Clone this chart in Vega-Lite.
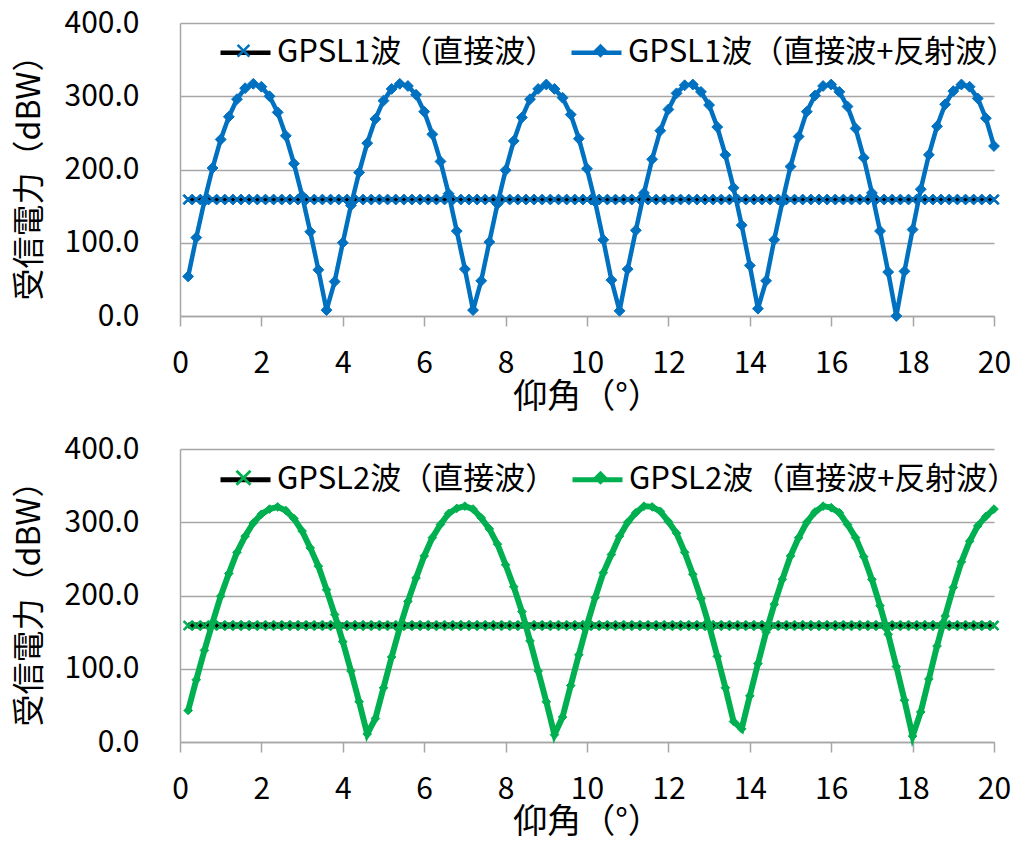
{
"$schema":"https://vega.github.io/schema/vega-lite/v6.json",
"padding":{"left":13,"top":8,"right":0,"bottom":0},
"autosize":{"type":"pad"},
"spacing":20,
"config":{
 "font":"Noto Sans CJK JP",
 "view":{"stroke":null},
 "axis":{"labelFont":"Noto Sans CJK JP","titleFont":"Noto Sans CJK JP","labelColor":"#000000","titleColor":"#000000","titleFontWeight":"normal","domainColor":"#A6A6A6","domainWidth":1.5,"gridColor":"#A6A6A6","gridWidth":1.5,"tickColor":"#A6A6A6","tickWidth":1.5},
 "legend":{"labelFont":"Noto Sans CJK JP","labelFontSize":31,"labelColor":"#000000","padding":0,"labelLimit":0}
},
"resolve":{"scale":{"stroke":"independent","shape":"independent"},"legend":{"stroke":"independent","shape":"independent"}},
"datasets":{
"L1":[
{"angle":0.2,"power":159,"series":"GPSL1波（直接波）"},{"angle":0.4,"power":159,"series":"GPSL1波（直接波）"},{"angle":0.6,"power":159,"series":"GPSL1波（直接波）"},{"angle":0.8,"power":159,"series":"GPSL1波（直接波）"},{"angle":1.0,"power":159,"series":"GPSL1波（直接波）"},{"angle":1.2,"power":159,"series":"GPSL1波（直接波）"},{"angle":1.4,"power":159,"series":"GPSL1波（直接波）"},{"angle":1.6,"power":159,"series":"GPSL1波（直接波）"},{"angle":1.8,"power":159,"series":"GPSL1波（直接波）"},{"angle":2.0,"power":159,"series":"GPSL1波（直接波）"},
{"angle":2.2,"power":159,"series":"GPSL1波（直接波）"},{"angle":2.4,"power":159,"series":"GPSL1波（直接波）"},{"angle":2.6,"power":159,"series":"GPSL1波（直接波）"},{"angle":2.8,"power":159,"series":"GPSL1波（直接波）"},{"angle":3.0,"power":159,"series":"GPSL1波（直接波）"},{"angle":3.2,"power":159,"series":"GPSL1波（直接波）"},{"angle":3.4,"power":159,"series":"GPSL1波（直接波）"},{"angle":3.6,"power":159,"series":"GPSL1波（直接波）"},{"angle":3.8,"power":159,"series":"GPSL1波（直接波）"},{"angle":4.0,"power":159,"series":"GPSL1波（直接波）"},
{"angle":4.2,"power":159,"series":"GPSL1波（直接波）"},{"angle":4.4,"power":159,"series":"GPSL1波（直接波）"},{"angle":4.6,"power":159,"series":"GPSL1波（直接波）"},{"angle":4.8,"power":159,"series":"GPSL1波（直接波）"},{"angle":5.0,"power":159,"series":"GPSL1波（直接波）"},{"angle":5.2,"power":159,"series":"GPSL1波（直接波）"},{"angle":5.4,"power":159,"series":"GPSL1波（直接波）"},{"angle":5.6,"power":159,"series":"GPSL1波（直接波）"},{"angle":5.8,"power":159,"series":"GPSL1波（直接波）"},{"angle":6.0,"power":159,"series":"GPSL1波（直接波）"},
{"angle":6.2,"power":159,"series":"GPSL1波（直接波）"},{"angle":6.4,"power":159,"series":"GPSL1波（直接波）"},{"angle":6.6,"power":159,"series":"GPSL1波（直接波）"},{"angle":6.8,"power":159,"series":"GPSL1波（直接波）"},{"angle":7.0,"power":159,"series":"GPSL1波（直接波）"},{"angle":7.2,"power":159,"series":"GPSL1波（直接波）"},{"angle":7.4,"power":159,"series":"GPSL1波（直接波）"},{"angle":7.6,"power":159,"series":"GPSL1波（直接波）"},{"angle":7.8,"power":159,"series":"GPSL1波（直接波）"},{"angle":8.0,"power":159,"series":"GPSL1波（直接波）"},
{"angle":8.2,"power":159,"series":"GPSL1波（直接波）"},{"angle":8.4,"power":159,"series":"GPSL1波（直接波）"},{"angle":8.6,"power":159,"series":"GPSL1波（直接波）"},{"angle":8.8,"power":159,"series":"GPSL1波（直接波）"},{"angle":9.0,"power":159,"series":"GPSL1波（直接波）"},{"angle":9.2,"power":159,"series":"GPSL1波（直接波）"},{"angle":9.4,"power":159,"series":"GPSL1波（直接波）"},{"angle":9.6,"power":159,"series":"GPSL1波（直接波）"},{"angle":9.8,"power":159,"series":"GPSL1波（直接波）"},{"angle":10.0,"power":159,"series":"GPSL1波（直接波）"},
{"angle":10.2,"power":159,"series":"GPSL1波（直接波）"},{"angle":10.4,"power":159,"series":"GPSL1波（直接波）"},{"angle":10.6,"power":159,"series":"GPSL1波（直接波）"},{"angle":10.8,"power":159,"series":"GPSL1波（直接波）"},{"angle":11.0,"power":159,"series":"GPSL1波（直接波）"},{"angle":11.2,"power":159,"series":"GPSL1波（直接波）"},{"angle":11.4,"power":159,"series":"GPSL1波（直接波）"},{"angle":11.6,"power":159,"series":"GPSL1波（直接波）"},{"angle":11.8,"power":159,"series":"GPSL1波（直接波）"},{"angle":12.0,"power":159,"series":"GPSL1波（直接波）"},
{"angle":12.2,"power":159,"series":"GPSL1波（直接波）"},{"angle":12.4,"power":159,"series":"GPSL1波（直接波）"},{"angle":12.6,"power":159,"series":"GPSL1波（直接波）"},{"angle":12.8,"power":159,"series":"GPSL1波（直接波）"},{"angle":13.0,"power":159,"series":"GPSL1波（直接波）"},{"angle":13.2,"power":159,"series":"GPSL1波（直接波）"},{"angle":13.4,"power":159,"series":"GPSL1波（直接波）"},{"angle":13.6,"power":159,"series":"GPSL1波（直接波）"},{"angle":13.8,"power":159,"series":"GPSL1波（直接波）"},{"angle":14.0,"power":159,"series":"GPSL1波（直接波）"},
{"angle":14.2,"power":159,"series":"GPSL1波（直接波）"},{"angle":14.4,"power":159,"series":"GPSL1波（直接波）"},{"angle":14.6,"power":159,"series":"GPSL1波（直接波）"},{"angle":14.8,"power":159,"series":"GPSL1波（直接波）"},{"angle":15.0,"power":159,"series":"GPSL1波（直接波）"},{"angle":15.2,"power":159,"series":"GPSL1波（直接波）"},{"angle":15.4,"power":159,"series":"GPSL1波（直接波）"},{"angle":15.6,"power":159,"series":"GPSL1波（直接波）"},{"angle":15.8,"power":159,"series":"GPSL1波（直接波）"},{"angle":16.0,"power":159,"series":"GPSL1波（直接波）"},
{"angle":16.2,"power":159,"series":"GPSL1波（直接波）"},{"angle":16.4,"power":159,"series":"GPSL1波（直接波）"},{"angle":16.6,"power":159,"series":"GPSL1波（直接波）"},{"angle":16.8,"power":159,"series":"GPSL1波（直接波）"},{"angle":17.0,"power":159,"series":"GPSL1波（直接波）"},{"angle":17.2,"power":159,"series":"GPSL1波（直接波）"},{"angle":17.4,"power":159,"series":"GPSL1波（直接波）"},{"angle":17.6,"power":159,"series":"GPSL1波（直接波）"},{"angle":17.8,"power":159,"series":"GPSL1波（直接波）"},{"angle":18.0,"power":159,"series":"GPSL1波（直接波）"},
{"angle":18.2,"power":159,"series":"GPSL1波（直接波）"},{"angle":18.4,"power":159,"series":"GPSL1波（直接波）"},{"angle":18.6,"power":159,"series":"GPSL1波（直接波）"},{"angle":18.8,"power":159,"series":"GPSL1波（直接波）"},{"angle":19.0,"power":159,"series":"GPSL1波（直接波）"},{"angle":19.2,"power":159,"series":"GPSL1波（直接波）"},{"angle":19.4,"power":159,"series":"GPSL1波（直接波）"},{"angle":19.6,"power":159,"series":"GPSL1波（直接波）"},{"angle":19.8,"power":159,"series":"GPSL1波（直接波）"},{"angle":20.0,"power":159,"series":"GPSL1波（直接波）"},
{"angle":0.2,"power":54,"series":"GPSL1波（直接波+反射波）"},{"angle":0.4,"power":107,"series":"GPSL1波（直接波+反射波）"},{"angle":0.6,"power":157,"series":"GPSL1波（直接波+反射波）"},{"angle":0.8,"power":202,"series":"GPSL1波（直接波+反射波）"},{"angle":1.0,"power":241,"series":"GPSL1波（直接波+反射波）"},{"angle":1.2,"power":272,"series":"GPSL1波（直接波+反射波）"},{"angle":1.4,"power":296,"series":"GPSL1波（直接波+反射波）"},{"angle":1.6,"power":311,"series":"GPSL1波（直接波+反射波）"},{"angle":1.8,"power":317,"series":"GPSL1波（直接波+反射波）"},{"angle":2.0,"power":313,"series":"GPSL1波（直接波+反射波）"},
{"angle":2.2,"power":300,"series":"GPSL1波（直接波+反射波）"},{"angle":2.4,"power":278,"series":"GPSL1波（直接波+反射波）"},{"angle":2.6,"power":246,"series":"GPSL1波（直接波+反射波）"},{"angle":2.8,"power":208,"series":"GPSL1波（直接波+反射波）"},{"angle":3.0,"power":164,"series":"GPSL1波（直接波+反射波）"},{"angle":3.2,"power":115,"series":"GPSL1波（直接波+反射波）"},{"angle":3.4,"power":63,"series":"GPSL1波（直接波+反射波）"},{"angle":3.6,"power":8,"series":"GPSL1波（直接波+反射波）"},{"angle":3.8,"power":47,"series":"GPSL1波（直接波+反射波）"},{"angle":4.0,"power":100,"series":"GPSL1波（直接波+反射波）"},
{"angle":4.2,"power":151,"series":"GPSL1波（直接波+反射波）"},{"angle":4.4,"power":196,"series":"GPSL1波（直接波+反射波）"},{"angle":4.6,"power":236,"series":"GPSL1波（直接波+反射波）"},{"angle":4.8,"power":269,"series":"GPSL1波（直接波+反射波）"},{"angle":5.0,"power":294,"series":"GPSL1波（直接波+反射波）"},{"angle":5.2,"power":310,"series":"GPSL1波（直接波+反射波）"},{"angle":5.4,"power":317,"series":"GPSL1波（直接波+反射波）"},{"angle":5.6,"power":314,"series":"GPSL1波（直接波+反射波）"},{"angle":5.8,"power":302,"series":"GPSL1波（直接波+反射波）"},{"angle":6.0,"power":279,"series":"GPSL1波（直接波+反射波）"},
{"angle":6.2,"power":248,"series":"GPSL1波（直接波+反射波）"},{"angle":6.4,"power":211,"series":"GPSL1波（直接波+反射波）"},{"angle":6.6,"power":167,"series":"GPSL1波（直接波+反射波）"},{"angle":6.8,"power":116,"series":"GPSL1波（直接波+反射波）"},{"angle":7.0,"power":64,"series":"GPSL1波（直接波+反射波）"},{"angle":7.2,"power":8,"series":"GPSL1波（直接波+反射波）"},{"angle":7.4,"power":48,"series":"GPSL1波（直接波+反射波）"},{"angle":7.6,"power":101,"series":"GPSL1波（直接波+反射波）"},{"angle":7.8,"power":153,"series":"GPSL1波（直接波+反射波）"},{"angle":8.0,"power":199,"series":"GPSL1波（直接波+反射波）"},
{"angle":8.2,"power":239,"series":"GPSL1波（直接波+反射波）"},{"angle":8.4,"power":271,"series":"GPSL1波（直接波+反射波）"},{"angle":8.6,"power":296,"series":"GPSL1波（直接波+反射波）"},{"angle":8.8,"power":310,"series":"GPSL1波（直接波+反射波）"},{"angle":9.0,"power":316,"series":"GPSL1波（直接波+反射波）"},{"angle":9.2,"power":310,"series":"GPSL1波（直接波+反射波）"},{"angle":9.4,"power":298,"series":"GPSL1波（直接波+反射波）"},{"angle":9.6,"power":275,"series":"GPSL1波（直接波+反射波）"},{"angle":9.8,"power":242,"series":"GPSL1波（直接波+反射波）"},{"angle":10.0,"power":201,"series":"GPSL1波（直接波+反射波）"},
{"angle":10.2,"power":156,"series":"GPSL1波（直接波+反射波）"},{"angle":10.4,"power":104,"series":"GPSL1波（直接波+反射波）"},{"angle":10.6,"power":49,"series":"GPSL1波（直接波+反射波）"},{"angle":10.8,"power":7,"series":"GPSL1波（直接波+反射波）"},{"angle":11.0,"power":64,"series":"GPSL1波（直接波+反射波）"},{"angle":11.2,"power":117,"series":"GPSL1波（直接波+反射波）"},{"angle":11.4,"power":168,"series":"GPSL1波（直接波+反射波）"},{"angle":11.6,"power":214,"series":"GPSL1波（直接波+反射波）"},{"angle":11.8,"power":253,"series":"GPSL1波（直接波+反射波）"},{"angle":12.0,"power":282,"series":"GPSL1波（直接波+反射波）"},
{"angle":12.2,"power":304,"series":"GPSL1波（直接波+反射波）"},{"angle":12.4,"power":315,"series":"GPSL1波（直接波+反射波）"},{"angle":12.6,"power":316,"series":"GPSL1波（直接波+反射波）"},{"angle":12.8,"power":306,"series":"GPSL1波（直接波+反射波）"},{"angle":13.0,"power":288,"series":"GPSL1波（直接波+反射波）"},{"angle":13.2,"power":258,"series":"GPSL1波（直接波+反射波）"},{"angle":13.4,"power":220,"series":"GPSL1波（直接波+反射波）"},{"angle":13.6,"power":175,"series":"GPSL1波（直接波+反射波）"},{"angle":13.8,"power":124,"series":"GPSL1波（直接波+反射波）"},{"angle":14.0,"power":69,"series":"GPSL1波（直接波+反射波）"},
{"angle":14.2,"power":10,"series":"GPSL1波（直接波+反射波）"},{"angle":14.4,"power":48,"series":"GPSL1波（直接波+反射波）"},{"angle":14.6,"power":104,"series":"GPSL1波（直接波+反射波）"},{"angle":14.8,"power":156,"series":"GPSL1波（直接波+反射波）"},{"angle":15.0,"power":204,"series":"GPSL1波（直接波+反射波）"},{"angle":15.2,"power":245,"series":"GPSL1波（直接波+反射波）"},{"angle":15.4,"power":279,"series":"GPSL1波（直接波+反射波）"},{"angle":15.6,"power":301,"series":"GPSL1波（直接波+反射波）"},{"angle":15.8,"power":314,"series":"GPSL1波（直接波+反射波）"},{"angle":16.0,"power":316,"series":"GPSL1波（直接波+反射波）"},
{"angle":16.2,"power":306,"series":"GPSL1波（直接波+反射波）"},{"angle":16.4,"power":286,"series":"GPSL1波（直接波+反射波）"},{"angle":16.6,"power":256,"series":"GPSL1波（直接波+反射波）"},{"angle":16.8,"power":216,"series":"GPSL1波（直接波+反射波）"},{"angle":17.0,"power":168,"series":"GPSL1波（直接波+反射波）"},{"angle":17.2,"power":116,"series":"GPSL1波（直接波+反射波）"},{"angle":17.4,"power":60,"series":"GPSL1波（直接波+反射波）"},{"angle":17.6,"power":0,"series":"GPSL1波（直接波+反射波）"},{"angle":17.8,"power":61,"series":"GPSL1波（直接波+反射波）"},{"angle":18.0,"power":118,"series":"GPSL1波（直接波+反射波）"},
{"angle":18.2,"power":173,"series":"GPSL1波（直接波+反射波）"},{"angle":18.4,"power":220,"series":"GPSL1波（直接波+反射波）"},{"angle":18.6,"power":259,"series":"GPSL1波（直接波+反射波）"},{"angle":18.8,"power":289,"series":"GPSL1波（直接波+反射波）"},{"angle":19.0,"power":307,"series":"GPSL1波（直接波+反射波）"},{"angle":19.2,"power":316,"series":"GPSL1波（直接波+反射波）"},{"angle":19.4,"power":313,"series":"GPSL1波（直接波+反射波）"},{"angle":19.6,"power":297,"series":"GPSL1波（直接波+反射波）"},{"angle":19.8,"power":270,"series":"GPSL1波（直接波+反射波）"},{"angle":20.0,"power":232,"series":"GPSL1波（直接波+反射波）"}
],
"L2":[
{"angle":0.2,"power":159,"series":"GPSL2波（直接波）"},{"angle":0.4,"power":159,"series":"GPSL2波（直接波）"},{"angle":0.6,"power":159,"series":"GPSL2波（直接波）"},{"angle":0.8,"power":159,"series":"GPSL2波（直接波）"},{"angle":1.0,"power":159,"series":"GPSL2波（直接波）"},{"angle":1.2,"power":159,"series":"GPSL2波（直接波）"},{"angle":1.4,"power":159,"series":"GPSL2波（直接波）"},{"angle":1.6,"power":159,"series":"GPSL2波（直接波）"},{"angle":1.8,"power":159,"series":"GPSL2波（直接波）"},{"angle":2.0,"power":159,"series":"GPSL2波（直接波）"},
{"angle":2.2,"power":159,"series":"GPSL2波（直接波）"},{"angle":2.4,"power":159,"series":"GPSL2波（直接波）"},{"angle":2.6,"power":159,"series":"GPSL2波（直接波）"},{"angle":2.8,"power":159,"series":"GPSL2波（直接波）"},{"angle":3.0,"power":159,"series":"GPSL2波（直接波）"},{"angle":3.2,"power":159,"series":"GPSL2波（直接波）"},{"angle":3.4,"power":159,"series":"GPSL2波（直接波）"},{"angle":3.6,"power":159,"series":"GPSL2波（直接波）"},{"angle":3.8,"power":159,"series":"GPSL2波（直接波）"},{"angle":4.0,"power":159,"series":"GPSL2波（直接波）"},
{"angle":4.2,"power":159,"series":"GPSL2波（直接波）"},{"angle":4.4,"power":159,"series":"GPSL2波（直接波）"},{"angle":4.6,"power":159,"series":"GPSL2波（直接波）"},{"angle":4.8,"power":159,"series":"GPSL2波（直接波）"},{"angle":5.0,"power":159,"series":"GPSL2波（直接波）"},{"angle":5.2,"power":159,"series":"GPSL2波（直接波）"},{"angle":5.4,"power":159,"series":"GPSL2波（直接波）"},{"angle":5.6,"power":159,"series":"GPSL2波（直接波）"},{"angle":5.8,"power":159,"series":"GPSL2波（直接波）"},{"angle":6.0,"power":159,"series":"GPSL2波（直接波）"},
{"angle":6.2,"power":159,"series":"GPSL2波（直接波）"},{"angle":6.4,"power":159,"series":"GPSL2波（直接波）"},{"angle":6.6,"power":159,"series":"GPSL2波（直接波）"},{"angle":6.8,"power":159,"series":"GPSL2波（直接波）"},{"angle":7.0,"power":159,"series":"GPSL2波（直接波）"},{"angle":7.2,"power":159,"series":"GPSL2波（直接波）"},{"angle":7.4,"power":159,"series":"GPSL2波（直接波）"},{"angle":7.6,"power":159,"series":"GPSL2波（直接波）"},{"angle":7.8,"power":159,"series":"GPSL2波（直接波）"},{"angle":8.0,"power":159,"series":"GPSL2波（直接波）"},
{"angle":8.2,"power":159,"series":"GPSL2波（直接波）"},{"angle":8.4,"power":159,"series":"GPSL2波（直接波）"},{"angle":8.6,"power":159,"series":"GPSL2波（直接波）"},{"angle":8.8,"power":159,"series":"GPSL2波（直接波）"},{"angle":9.0,"power":159,"series":"GPSL2波（直接波）"},{"angle":9.2,"power":159,"series":"GPSL2波（直接波）"},{"angle":9.4,"power":159,"series":"GPSL2波（直接波）"},{"angle":9.6,"power":159,"series":"GPSL2波（直接波）"},{"angle":9.8,"power":159,"series":"GPSL2波（直接波）"},{"angle":10.0,"power":159,"series":"GPSL2波（直接波）"},
{"angle":10.2,"power":159,"series":"GPSL2波（直接波）"},{"angle":10.4,"power":159,"series":"GPSL2波（直接波）"},{"angle":10.6,"power":159,"series":"GPSL2波（直接波）"},{"angle":10.8,"power":159,"series":"GPSL2波（直接波）"},{"angle":11.0,"power":159,"series":"GPSL2波（直接波）"},{"angle":11.2,"power":159,"series":"GPSL2波（直接波）"},{"angle":11.4,"power":159,"series":"GPSL2波（直接波）"},{"angle":11.6,"power":159,"series":"GPSL2波（直接波）"},{"angle":11.8,"power":159,"series":"GPSL2波（直接波）"},{"angle":12.0,"power":159,"series":"GPSL2波（直接波）"},
{"angle":12.2,"power":159,"series":"GPSL2波（直接波）"},{"angle":12.4,"power":159,"series":"GPSL2波（直接波）"},{"angle":12.6,"power":159,"series":"GPSL2波（直接波）"},{"angle":12.8,"power":159,"series":"GPSL2波（直接波）"},{"angle":13.0,"power":159,"series":"GPSL2波（直接波）"},{"angle":13.2,"power":159,"series":"GPSL2波（直接波）"},{"angle":13.4,"power":159,"series":"GPSL2波（直接波）"},{"angle":13.6,"power":159,"series":"GPSL2波（直接波）"},{"angle":13.8,"power":159,"series":"GPSL2波（直接波）"},{"angle":14.0,"power":159,"series":"GPSL2波（直接波）"},
{"angle":14.2,"power":159,"series":"GPSL2波（直接波）"},{"angle":14.4,"power":159,"series":"GPSL2波（直接波）"},{"angle":14.6,"power":159,"series":"GPSL2波（直接波）"},{"angle":14.8,"power":159,"series":"GPSL2波（直接波）"},{"angle":15.0,"power":159,"series":"GPSL2波（直接波）"},{"angle":15.2,"power":159,"series":"GPSL2波（直接波）"},{"angle":15.4,"power":159,"series":"GPSL2波（直接波）"},{"angle":15.6,"power":159,"series":"GPSL2波（直接波）"},{"angle":15.8,"power":159,"series":"GPSL2波（直接波）"},{"angle":16.0,"power":159,"series":"GPSL2波（直接波）"},
{"angle":16.2,"power":159,"series":"GPSL2波（直接波）"},{"angle":16.4,"power":159,"series":"GPSL2波（直接波）"},{"angle":16.6,"power":159,"series":"GPSL2波（直接波）"},{"angle":16.8,"power":159,"series":"GPSL2波（直接波）"},{"angle":17.0,"power":159,"series":"GPSL2波（直接波）"},{"angle":17.2,"power":159,"series":"GPSL2波（直接波）"},{"angle":17.4,"power":159,"series":"GPSL2波（直接波）"},{"angle":17.6,"power":159,"series":"GPSL2波（直接波）"},{"angle":17.8,"power":159,"series":"GPSL2波（直接波）"},{"angle":18.0,"power":159,"series":"GPSL2波（直接波）"},
{"angle":18.2,"power":159,"series":"GPSL2波（直接波）"},{"angle":18.4,"power":159,"series":"GPSL2波（直接波）"},{"angle":18.6,"power":159,"series":"GPSL2波（直接波）"},{"angle":18.8,"power":159,"series":"GPSL2波（直接波）"},{"angle":19.0,"power":159,"series":"GPSL2波（直接波）"},{"angle":19.2,"power":159,"series":"GPSL2波（直接波）"},{"angle":19.4,"power":159,"series":"GPSL2波（直接波）"},{"angle":19.6,"power":159,"series":"GPSL2波（直接波）"},{"angle":19.8,"power":159,"series":"GPSL2波（直接波）"},{"angle":20.0,"power":159,"series":"GPSL2波（直接波）"},
{"angle":0.2,"power":43,"series":"GPSL2波（直接波+反射波）"},{"angle":0.4,"power":85,"series":"GPSL2波（直接波+反射波）"},{"angle":0.6,"power":125,"series":"GPSL2波（直接波+反射波）"},{"angle":0.8,"power":163,"series":"GPSL2波（直接波+反射波）"},{"angle":1.0,"power":199,"series":"GPSL2波（直接波+反射波）"},{"angle":1.2,"power":230,"series":"GPSL2波（直接波+反射波）"},{"angle":1.4,"power":259,"series":"GPSL2波（直接波+反射波）"},{"angle":1.6,"power":281,"series":"GPSL2波（直接波+反射波）"},{"angle":1.8,"power":299,"series":"GPSL2波（直接波+反射波）"},{"angle":2.0,"power":311,"series":"GPSL2波（直接波+反射波）"},
{"angle":2.2,"power":318,"series":"GPSL2波（直接波+反射波）"},{"angle":2.4,"power":321,"series":"GPSL2波（直接波+反射波）"},{"angle":2.6,"power":316,"series":"GPSL2波（直接波+反射波）"},{"angle":2.8,"power":305,"series":"GPSL2波（直接波+反射波）"},{"angle":3.0,"power":288,"series":"GPSL2波（直接波+反射波）"},{"angle":3.2,"power":265,"series":"GPSL2波（直接波+反射波）"},{"angle":3.4,"power":240,"series":"GPSL2波（直接波+反射波）"},{"angle":3.6,"power":208,"series":"GPSL2波（直接波+反射波）"},{"angle":3.8,"power":174,"series":"GPSL2波（直接波+反射波）"},{"angle":4.0,"power":137,"series":"GPSL2波（直接波+反射波）"},
{"angle":4.2,"power":97,"series":"GPSL2波（直接波+反射波）"},{"angle":4.4,"power":55,"series":"GPSL2波（直接波+反射波）"},{"angle":4.6,"power":11,"series":"GPSL2波（直接波+反射波）"},{"angle":4.8,"power":32,"series":"GPSL2波（直接波+反射波）"},{"angle":5.0,"power":74,"series":"GPSL2波（直接波+反射波）"},{"angle":5.2,"power":116,"series":"GPSL2波（直接波+反射波）"},{"angle":5.4,"power":156,"series":"GPSL2波（直接波+反射波）"},{"angle":5.6,"power":192,"series":"GPSL2波（直接波+反射波）"},{"angle":5.8,"power":224,"series":"GPSL2波（直接波+反射波）"},{"angle":6.0,"power":254,"series":"GPSL2波（直接波+反射波）"},
{"angle":6.2,"power":279,"series":"GPSL2波（直接波+反射波）"},{"angle":6.4,"power":297,"series":"GPSL2波（直接波+反射波）"},{"angle":6.6,"power":312,"series":"GPSL2波（直接波+反射波）"},{"angle":6.8,"power":319,"series":"GPSL2波（直接波+反射波）"},{"angle":7.0,"power":322,"series":"GPSL2波（直接波+反射波）"},{"angle":7.2,"power":318,"series":"GPSL2波（直接波+反射波）"},{"angle":7.4,"power":306,"series":"GPSL2波（直接波+反射波）"},{"angle":7.6,"power":291,"series":"GPSL2波（直接波+反射波）"},{"angle":7.8,"power":270,"series":"GPSL2波（直接波+反射波）"},{"angle":8.0,"power":242,"series":"GPSL2波（直接波+反射波）"},
{"angle":8.2,"power":212,"series":"GPSL2波（直接波+反射波）"},{"angle":8.4,"power":178,"series":"GPSL2波（直接波+反射波）"},{"angle":8.6,"power":138,"series":"GPSL2波（直接波+反射波）"},{"angle":8.8,"power":97,"series":"GPSL2波（直接波+反射波）"},{"angle":9.0,"power":55,"series":"GPSL2波（直接波+反射波）"},{"angle":9.2,"power":10,"series":"GPSL2波（直接波+反射波）"},{"angle":9.4,"power":34,"series":"GPSL2波（直接波+反射波）"},{"angle":9.6,"power":77,"series":"GPSL2波（直接波+反射波）"},{"angle":9.8,"power":119,"series":"GPSL2波（直接波+反射波）"},{"angle":10.0,"power":160,"series":"GPSL2波（直接波+反射波）"},
{"angle":10.2,"power":197,"series":"GPSL2波（直接波+反射波）"},{"angle":10.4,"power":231,"series":"GPSL2波（直接波+反射波）"},{"angle":10.6,"power":256,"series":"GPSL2波（直接波+反射波）"},{"angle":10.8,"power":281,"series":"GPSL2波（直接波+反射波）"},{"angle":11.0,"power":300,"series":"GPSL2波（直接波+反射波）"},{"angle":11.2,"power":313,"series":"GPSL2波（直接波+反射波）"},{"angle":11.4,"power":322,"series":"GPSL2波（直接波+反射波）"},{"angle":11.6,"power":321,"series":"GPSL2波（直接波+反射波）"},{"angle":11.8,"power":315,"series":"GPSL2波（直接波+反射波）"},{"angle":12.0,"power":301,"series":"GPSL2波（直接波+反射波）"},
{"angle":12.2,"power":285,"series":"GPSL2波（直接波+反射波）"},{"angle":12.4,"power":259,"series":"GPSL2波（直接波+反射波）"},{"angle":12.6,"power":229,"series":"GPSL2波（直接波+反射波）"},{"angle":12.8,"power":196,"series":"GPSL2波（直接波+反射波）"},{"angle":13.0,"power":159,"series":"GPSL2波（直接波+反射波）"},{"angle":13.2,"power":117,"series":"GPSL2波（直接波+反射波）"},{"angle":13.4,"power":74,"series":"GPSL2波（直接波+反射波）"},{"angle":13.6,"power":28,"series":"GPSL2波（直接波+反射波）"},{"angle":13.8,"power":18,"series":"GPSL2波（直接波+反射波）"},{"angle":14.0,"power":63,"series":"GPSL2波（直接波+反射波）"},
{"angle":14.2,"power":107,"series":"GPSL2波（直接波+反射波）"},{"angle":14.4,"power":150,"series":"GPSL2波（直接波+反射波）"},{"angle":14.6,"power":188,"series":"GPSL2波（直接波+反射波）"},{"angle":14.8,"power":222,"series":"GPSL2波（直接波+反射波）"},{"angle":15.0,"power":254,"series":"GPSL2波（直接波+反射波）"},{"angle":15.2,"power":279,"series":"GPSL2波（直接波+反射波）"},{"angle":15.4,"power":300,"series":"GPSL2波（直接波+反射波）"},{"angle":15.6,"power":314,"series":"GPSL2波（直接波+反射波）"},{"angle":15.8,"power":322,"series":"GPSL2波（直接波+反射波）"},{"angle":16.0,"power":320,"series":"GPSL2波（直接波+反射波）"},
{"angle":16.2,"power":313,"series":"GPSL2波（直接波+反射波）"},{"angle":16.4,"power":297,"series":"GPSL2波（直接波+反射波）"},{"angle":16.6,"power":279,"series":"GPSL2波（直接波+反射波）"},{"angle":16.8,"power":253,"series":"GPSL2波（直接波+反射波）"},{"angle":17.0,"power":222,"series":"GPSL2波（直接波+反射波）"},{"angle":17.2,"power":186,"series":"GPSL2波（直接波+反射波）"},{"angle":17.4,"power":147,"series":"GPSL2波（直接波+反射波）"},{"angle":17.6,"power":103,"series":"GPSL2波（直接波+反射波）"},{"angle":17.8,"power":57,"series":"GPSL2波（直接波+反射波）"},{"angle":18.0,"power":8,"series":"GPSL2波（直接波+反射波）"},
{"angle":18.2,"power":41,"series":"GPSL2波（直接波+反射波）"},{"angle":18.4,"power":86,"series":"GPSL2波（直接波+反射波）"},{"angle":18.6,"power":131,"series":"GPSL2波（直接波+反射波）"},{"angle":18.8,"power":172,"series":"GPSL2波（直接波+反射波）"},{"angle":19.0,"power":211,"series":"GPSL2波（直接波+反射波）"},{"angle":19.2,"power":246,"series":"GPSL2波（直接波+反射波）"},{"angle":19.4,"power":274,"series":"GPSL2波（直接波+反射波）"},{"angle":19.6,"power":295,"series":"GPSL2波（直接波+反射波）"},{"angle":19.8,"power":308,"series":"GPSL2波（直接波+反射波）"},{"angle":20.0,"power":318,"series":"GPSL2波（直接波+反射波）"}
]
},
"vconcat":[
{
 "width":814,"height":293,
 "data":{"name":"L1"},
 "encoding":{
  "x":{"field":"angle","type":"quantitative","scale":{"domain":[0,20],"nice":false,"zero":false},"axis":{"title":"仰角（°）","values":[0,2,4,6,8,10,12,14,16,18,20],"grid":false,"tickSize":10,"labelPadding":22,"labelFlush":false,"labelFontSize":30,"titleFontSize":34,"titlePadding":2}},
  "y":{"field":"power","type":"quantitative","scale":{"domain":[0,400],"nice":false},"axis":{"title":"受信電力（dBW）","values":[0,100,200,300,400],"format":".1f","ticks":false,"labelPadding":41,"titlePadding":18,"labelFontSize":30,"titleFontSize":32}}
 },
 "layer":[
  {"mark":{"type":"line","strokeWidth":4.5},
   "encoding":{"stroke":{"field":"series","type":"nominal","sort":["GPSL1波（直接波）","GPSL1波（直接波+反射波）"],"scale":{"range":["#000000","#0070C0"]},
     "legend":{"title":null,"orient":"none","legendX":38,"legendY":2,"direction":"horizontal","columns":2,"columnPadding":5,"symbolType":"stroke","symbolSize":2500,"symbolStrokeWidth":4.5,"labelOffset":4}}}},
  {"mark":{"type":"point","filled":true,"fill":"#0070C0","stroke":"#0070C0","strokeWidth":1,"size":1500,"opacity":1},
   "encoding":{"shape":{"field":"series","type":"nominal","scale":{"domain":["GPSL1波（直接波）","GPSL1波（直接波+反射波）"],"range":["M-0.27,-0.2L-0.2,-0.27L0,-0.07L0.2,-0.27L0.27,-0.2L0.07,0L0.27,0.2L0.2,0.27L0,0.07L-0.2,0.27L-0.27,0.2L-0.07,0Z","M0,-0.28L0.28,0L0,0.28L-0.28,0Z"]},
     "legend":{"title":null,"orient":"none","legendX":38,"legendY":2,"direction":"horizontal","columns":2,"columnPadding":302,"symbolSize":2500,"symbolFillColor":"#0070C0","symbolStrokeColor":"#0070C0","symbolStrokeWidth":1,"labelOffset":4,"labelExpr":"''"}}}}
 ]
},
{
 "width":814,"height":293,
 "data":{"name":"L2"},
 "encoding":{
  "x":{"field":"angle","type":"quantitative","scale":{"domain":[0,20],"nice":false,"zero":false},"axis":{"title":"仰角（°）","values":[0,2,4,6,8,10,12,14,16,18,20],"grid":false,"tickSize":10,"labelPadding":22,"labelFlush":false,"labelFontSize":30,"titleFontSize":34,"titlePadding":1}},
  "y":{"field":"power","type":"quantitative","scale":{"domain":[0,400],"nice":false},"axis":{"title":"受信電力（dBW）","values":[0,100,200,300,400],"format":".1f","ticks":false,"labelPadding":41,"titlePadding":18,"labelFontSize":30,"titleFontSize":32}}
 },
 "layer":[
  {"mark":{"type":"line","strokeWidth":6},
   "encoding":{"stroke":{"field":"series","type":"nominal","sort":["GPSL2波（直接波）","GPSL2波（直接波+反射波）"],"scale":{"range":["#000000","#00B050"]},
     "legend":{"title":null,"orient":"none","legendX":38,"legendY":3,"direction":"horizontal","columns":2,"columnPadding":5,"symbolType":"stroke","symbolSize":2500,"symbolStrokeWidth":5,"labelOffset":4}}}},
  {"mark":{"type":"point","filled":true,"fill":"#00B050","stroke":"#00B050","strokeWidth":1,"size":950,"opacity":1},
   "encoding":{"shape":{"field":"series","type":"nominal","scale":{"domain":["GPSL2波（直接波）","GPSL2波（直接波+反射波）"],"range":["M-0.32,-0.24L-0.24,-0.32L0,-0.08L0.24,-0.32L0.32,-0.24L0.08,0L0.32,0.24L0.24,0.32L0,0.08L-0.24,0.32L-0.32,0.24L-0.08,0Z","M0,-0.28L0.28,0L0,0.28L-0.28,0Z"]},
     "legend":{"title":null,"orient":"none","legendX":38,"legendY":3,"direction":"horizontal","columns":2,"columnPadding":302,"symbolSize":2500,"symbolFillColor":"#00B050","symbolStrokeColor":"#00B050","symbolStrokeWidth":1,"labelOffset":4,"labelExpr":"''"}}}}
 ]
}
]
}
